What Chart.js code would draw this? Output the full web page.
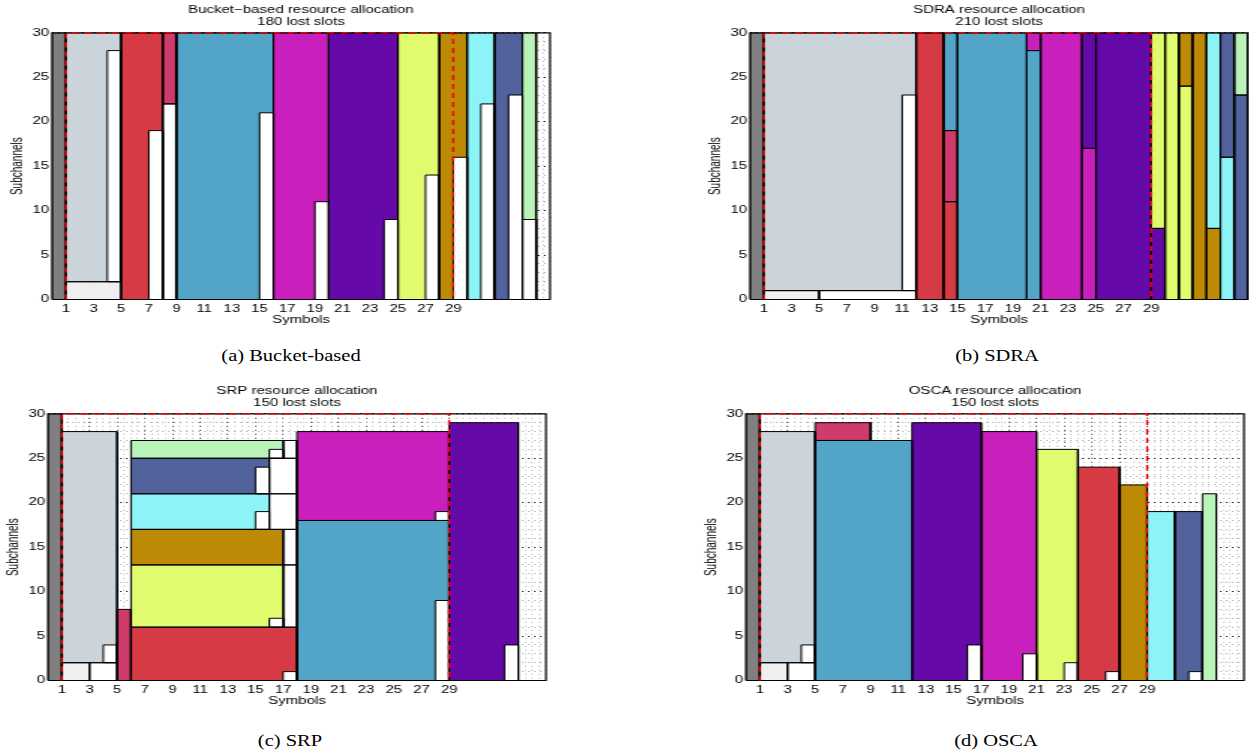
<!DOCTYPE html>
<html><head><meta charset="utf-8">
<script src="https://cdn.jsdelivr.net/npm/chart.js@4"></script>
<style>
html,body{margin:0;padding:0;background:#fff;width:1249px;height:755px;overflow:hidden;position:relative}
.panel{position:absolute;width:400px;height:340px;transform:scaleX(1.5);transform-origin:0 0}
.cap{position:absolute;font-family:"Liberation Serif","Times New Roman",serif;font-size:16px;line-height:16px;white-space:nowrap;color:#000;transform:translateX(-50%) scaleX(1.28)}
</style></head>
<body>
<div class="panel" style="left:1px;top:0px"><canvas id="c0" width="400" height="340"></canvas></div>
<div class="panel" style="left:699px;top:0px"><canvas id="c1" width="400" height="340"></canvas></div>
<div class="panel" style="left:-3.5px;top:381px"><canvas id="c2" width="400" height="340"></canvas></div>
<div class="panel" style="left:694.9px;top:381px"><canvas id="c3" width="400" height="340"></canvas></div>
<div class="cap" style="left:291px;top:347.5px">(a) Bucket-based</div>
<div class="cap" style="left:996.5px;top:347.5px">(b) SDRA</div>
<div class="cap" style="left:289.5px;top:732.5px">(c) SRP</div>
<div class="cap" style="left:995.5px;top:732.5px">(d) OSCA</div>
<script>
// ---------------- data ----------------
const SYMBOL_RANGE = [0, 36];
const SUBCHANNEL_RANGE = [0, 30];
const FRAME_SYMBOLS = [1, 29];
const xTickLabels = [1,3,5,7,9,11,13,15,17,19,21,23,25,27,29];
const yTickLabels = [0,5,10,15,20,25,30];
const schemeNames = ['Bucket\u2212based', 'SDRA', 'SRP', 'OSCA'];
const lostSlots = [180, 210, 150, 150];

// Bucket-based
const bucketStart = [0,1,1,4,5,7,8,8,9,15,16,19,20,24,25,27,28,29,30,31,32,33,34,34];
const bucketEnd   = [1,5,5,5,8,8,9,9,16,16,20,20,25,25,28,28,30,30,32,32,34,34,35,35];
const bucketLow   = [0,2,0,2,0,0,22,0,0,0,0,0,0,0,0,0,0,0,0,0,0,0,0,0];
const bucketHigh  = [30,30,2,28,30,19,30,22,30,21,30,11,30,9,30,14,30,16,30,22,30,23,30,9];
const bucketOwner = ['C','U1','U0','L','U2','L','U3','L','U4','L','U5','L','U6','L','U7','L','U8','L','U9','L','U10','L','U11','L'];

// SDRA
const sdraStart = [0,1,11,1,5,12,14,14,14,15,20,20,21,24,24,25,29,29,30,31,31,32,33,33,34,34,35,35];
const sdraEnd   = [1,12,12,5,12,14,15,15,15,20,21,21,24,25,25,29,30,30,31,32,32,33,34,34,35,35,36,36];
const sdraLow   = [0,1,1,0,0,0,0,11,19,0,0,28,0,0,17,0,0,8,0,0,24,0,0,8,0,16,0,23];
const sdraHigh  = [30,30,23,1,1,30,11,19,30,30,28,30,30,17,30,30,8,30,30,24,30,30,8,30,16,30,23,30];
const sdraOwner = ['C','U1','L','U0','L','U2','U2','U3','U4','U4','U4','U5','U5','U5','U6','U6','U6','U7','U7','U7','U8','U8','U8','U9','U9','U10','U10','U11'];

// SRP
const srpStart = [0,1,4,1,3,5,6,17,6,16,17,6,17,6,15,16,6,15,16,6,16,17,18,28,18,28,29,33];
const srpEnd   = [1,5,5,3,5,6,18,18,17,17,18,17,18,16,16,18,16,16,18,17,17,18,29,29,29,29,34,34];
const srpLow   = [0,2,2,0,0,0,0,0,6,6,6,13,13,17,17,17,21,21,21,25,25,25,0,0,18,18,0,0];
const srpHigh  = [30,28,4,2,2,8,6,1,13,7,13,17,17,21,19,21,25,24,25,27,26,27,18,9,28,19,29,4];
const srpOwner = ['C','U1','L','U0','L','U3','U2','L','U7','L','L','U8','L','U9','L','L','U10','L','L','U11','L','L','U4','L','U5','L','U6','L'];

// OSCA
const oscaStart = [0,1,4,1,3,5,5,12,16,17,20,21,23,24,26,27,29,31,32,33];
const oscaEnd   = [1,5,5,3,5,12,9,17,17,21,21,24,24,27,27,29,31,33,33,34];
const oscaLow   = [0,2,2,0,0,0,27,0,0,0,0,0,0,0,0,0,0,0,0,0];
const oscaHigh  = [30,28,4,2,2,27,29,29,4,28,3,26,2,24,1,22,19,19,1,21];
const oscaOwner = ['C','U1','L','U0','L','U4','U3','U6','L','U5','L','U7','L','U2','L','U8','U9','U10','L','U11'];

// ---------------- styles ----------------
const ownerColor = {C:'#808080', U0:'#efefef', U1:'#cbd3db', U2:'#d63a44', U3:'#cf3b6a', U4:'#52a5c6',
  U5:'#c920bd', U6:'#6509a9', U7:'#e1fb6e', U8:'#bd8a06', U9:'#8cf3f6', U10:'#52629c', U11:'#b9f3b9', L:'#ffffff'};
const FONT = '"Liberation Sans", Arial, Helvetica, sans-serif';

function buildDatasets(s, e, lo, hi, ow) {
  const base = {pointRadius:0, pointHoverRadius:0, tension:0, spanGaps:false};
  const fills = [], outlines = [];
  for (let i = 0; i < s.length; i++) {
    fills.push(Object.assign({}, base, {
      data:[{x:s[i], y:hi[i]}, {x:e[i], y:hi[i]}],
      fill:{value: lo[i]}, backgroundColor: ownerColor[ow[i]],
      borderWidth:0, borderColor:'rgba(0,0,0,0)'
    }));
    outlines.push(Object.assign({}, base, {
      data:[{x:s[i],y:lo[i]},{x:s[i],y:hi[i]},{x:e[i],y:hi[i]},{x:e[i],y:lo[i]},{x:s[i],y:lo[i]}],
      fill:false, borderColor:'#000', borderWidth:1
    }));
  }
  const box = Object.assign({}, base, {
    data:[{x:SYMBOL_RANGE[0],y:SUBCHANNEL_RANGE[0]},{x:SYMBOL_RANGE[0],y:SUBCHANNEL_RANGE[1]},
          {x:SYMBOL_RANGE[1],y:SUBCHANNEL_RANGE[1]},{x:SYMBOL_RANGE[1],y:SUBCHANNEL_RANGE[0]},
          {x:SYMBOL_RANGE[0],y:SUBCHANNEL_RANGE[0]}],
    fill:false, borderColor:'#000', borderWidth:1.2, clip: 4
  });
  const frame = Object.assign({}, base, {
    data:[{x:FRAME_SYMBOLS[0],y:SUBCHANNEL_RANGE[0]},{x:FRAME_SYMBOLS[0],y:SUBCHANNEL_RANGE[1]},
          {x:FRAME_SYMBOLS[1],y:SUBCHANNEL_RANGE[1]},{x:FRAME_SYMBOLS[1],y:SUBCHANNEL_RANGE[0]}],
    fill:false, borderColor:'#ee0000', borderWidth:1.4, borderDash:[5,4], clip: 4
  });
  // painting order: first is bottom-most; Chart.js paints dataset 0 last
  return fills.concat(outlines, [box, frame]).reverse();
}

function makeChart(id, idx, s, e, lo, hi, ow) {
  const tickFont = {family: FONT, size: 10, lineHeight: 1.2};
  new Chart(document.getElementById(id), {
    type: 'line',
    data: {datasets: buildDatasets(s, e, lo, hi, ow)},
    options: {
      responsive: false, animation: false, devicePixelRatio: 1,
      events: [],
      layout: {padding: {left: 0, right: 34, top: 0, bottom: 14}},
      plugins: {
        legend: {display: false}, tooltip: {enabled: false},
        title: {display: true, fullSize: false, text: [schemeNames[idx] + ' resource allocation', lostSlots[idx] + ' lost slots'],
          color: '#000', font: {family: FONT, size: 10, weight: 'normal', lineHeight: 1.2},
          padding: {top: 4.5, bottom: 4.3}}
      },
      scales: {
        x: {
          type: 'linear', min: SYMBOL_RANGE[0], max: SYMBOL_RANGE[1],
          afterFit: sc => { sc.height = 26.5; },
          ticks: {stepSize: 0.5, autoSkip: false, maxRotation: 0, minRotation: 0, padding: 3.8, color: '#000', font: tickFont,
            callback: v => xTickLabels.includes(v) ? String(v) : ''},
          grid: {drawTicks: false, lineWidth: 0.8,
            color: c => (c.tick && xTickLabels.includes(c.tick.value)) ? '#000' : '#a8a8a8'},
          border: {display: false, dash: [1, 3]},
          title: {display: true, text: 'Symbols', color: '#000', font: tickFont, padding: 0}
        },
        y: {
          type: 'linear', min: SUBCHANNEL_RANGE[0], max: SUBCHANNEL_RANGE[1],
          afterFit: sc => { sc.width = 34; },
          ticks: {stepSize: 1, autoSkip: false, padding: 2, color: '#000', font: tickFont,
            callback: v => yTickLabels.includes(v) ? String(v) : ''},
          grid: {drawTicks: false, lineWidth: 1,
            color: c => (c.tick && yTickLabels.includes(c.tick.value)) ? '#000' : '#a8a8a8'},
          border: {display: false, dash: [1, 3]},
          title: {display: true, text: 'Subchannels', color: '#000', font: {family: FONT, size: 10, lineHeight: 1.2}, padding: {top: 5, bottom: 0}}
        }
      }
    }
  });
}

makeChart('c0', 0, bucketStart, bucketEnd, bucketLow, bucketHigh, bucketOwner);
makeChart('c1', 1, sdraStart, sdraEnd, sdraLow, sdraHigh, sdraOwner);
makeChart('c2', 2, srpStart, srpEnd, srpLow, srpHigh, srpOwner);
makeChart('c3', 3, oscaStart, oscaEnd, oscaLow, oscaHigh, oscaOwner);
</script>
</body></html>
